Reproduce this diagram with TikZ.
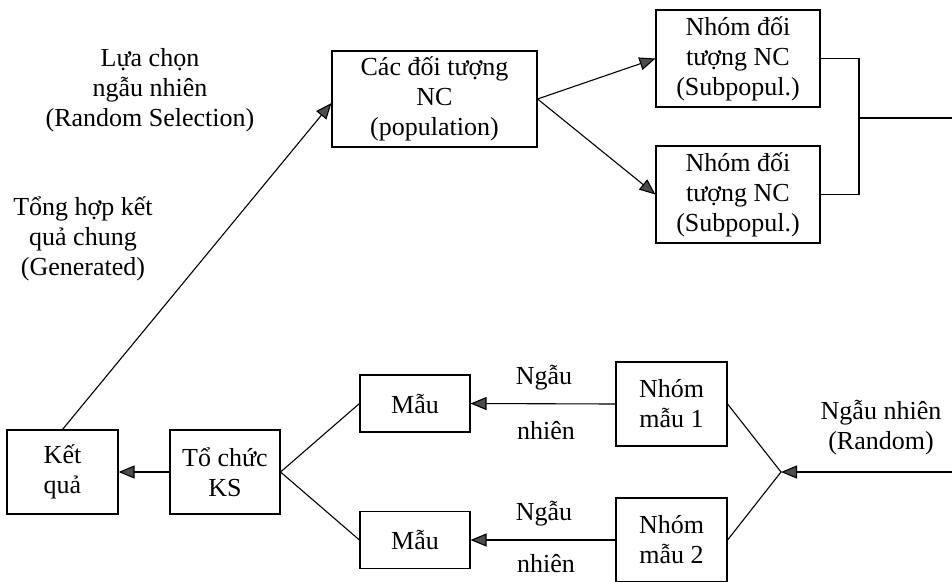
\documentclass[tikz,border=0pt]{standalone}
\usepackage{fontspec}
\setmainfont{Liberation Serif}
\usetikzlibrary{arrows.meta}
\begin{document}
\begin{tikzpicture}[x=1pt,y=-1pt,
  box/.style={draw,line width=1.1pt,align=center,inner sep=0pt,font=\fontsize{26}{30}\selectfont},
  lbl/.style={align=center,inner sep=0pt,font=\fontsize{26}{30}\selectfont},
  conn/.style={line width=1.1pt},
  arr/.style={line width=1.1pt,-{Triangle[length=16pt,width=13pt,fill=black!70]}}]
\useasboundingbox (0,0) rectangle (952,581);
% nodes
\node[box,minimum width=205pt,minimum height=96pt] (pop) at (434.5,99) {Các đối tượng\\NC\\(population)};
\node[box,minimum width=164pt,minimum height=97pt] (sub1) at (738,58.5) {Nhóm đối\\tượng NC\\(Subpopul.)};
\node[box,minimum width=164pt,minimum height=97pt] (sub2) at (738,194.5) {Nhóm đối\\tượng NC\\(Subpopul.)};
\node[box,minimum width=111pt,minimum height=84pt] (kq) at (62.5,472) {Kết\\quả};
\node[box,minimum width=110pt,minimum height=84pt] (tc) at (225,472) {Tổ chức\\KS};
\node[box,minimum width=110pt,minimum height=57pt] (m1) at (415,403.5) {Mẫu};
\node[box,minimum width=110pt,minimum height=57pt] (m2) at (415,540) {Mẫu};
\node[box,minimum width=111pt,minimum height=84pt] (nm1) at (671.5,404) {Nhóm\\mẫu 1};
\node[box,minimum width=111pt,minimum height=84pt] (nm2) at (671.5,540) {Nhóm\\mẫu 2};
% labels
\node[lbl] (l1) at (150,90) {Lựa chọn\\ngẫu nhiên\\(Random Selection)};
\node[lbl] (l2) at (83,239) {Tổng hợp kết\\quả chung\\(Generated)};
\node[lbl] (n1a) at (544,378) {Ngẫu};
\node[lbl] (n1b) at (546,431) {nhiên};
\node[lbl] (n2a) at (544,514) {Ngẫu};
\node[lbl] (n2b) at (546,564) {nhiên};
\node[lbl] (l3) at (881,428) {Ngẫu nhiên\\(Random)};
% coordinates
\coordinate (br) at (859,118);
\coordinate (rt) at (952,118);
\coordinate (j) at (781,472);
\coordinate (rj) at (952,472);
% connectors
\draw[arr] (pop.east) -- (sub1.west);
\draw[arr] (pop.east) -- (sub2.west);
\draw[conn] (sub1.east) -- (sub1.east -| br) -- (sub2.east -| br) -- (sub2.east);
\draw[conn] (br) -- (rt);
\draw[arr] (kq.north) -- ([yshift=-4pt]pop.west);
\draw[arr] (tc.west) -- (kq.east);
\draw[conn] (m1.west) -- (tc.east) -- (m2.west);
\draw[arr] (nm1.west) -- (m1.east);
\draw[arr] (nm2.west) -- (m2.east);
\draw[conn] (nm1.east) -- (j) -- (nm2.east);
\draw[arr] (rj) -- (j);
\end{tikzpicture}
\end{document}
